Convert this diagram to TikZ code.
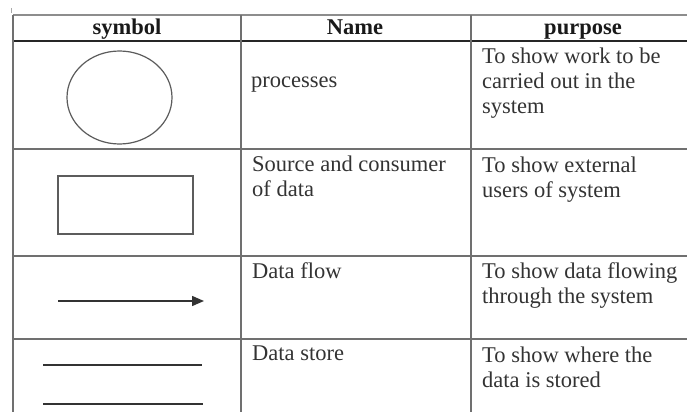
\documentclass[tikz,border=0pt]{standalone}
\usepackage{fontspec}
\setmainfont{Liberation Serif}
\usetikzlibrary{arrows.meta,shapes.geometric}
\definecolor{rule}{HTML}{707070}
\definecolor{ink}{HTML}{333333}

\begin{document}
\begin{tikzpicture}[x=1pt,y=-1pt,
  gridline/.style={draw=rule, line width=1.3pt},
  headline/.style={draw=black!85, line width=1.8pt},
  cell/.style={anchor=base west, inner sep=0pt, align=left, text=ink,
    font=\fontsize{22.5}{25}\selectfont},
  head/.style={anchor=base, inner sep=0pt, text=black!90,
    font=\fontsize{22.5}{25}\selectfont\bfseries},
  symline/.style={draw=ink, line width=1.5pt}]
\useasboundingbox (0,0) rectangle (687,412);

% small mark in the corner
\draw[rule!60, line width=1pt] (11,8) -- (11,13);

% table rules
\draw[gridline, draw=rule!80] (13,15) -- (687,15);
\draw[headline] (13,41) -- (687,41);
\draw[gridline] (13,149) -- (687,149);
\draw[gridline] (13,256) -- (687,256);
\draw[gridline] (13,339) -- (687,339);
\draw[gridline] (13,15) -- (13,412);
\draw[gridline] (241,15) -- (241,412);
\draw[gridline] (471,15) -- (471,412);

% header
\node[head] (hsym)  at (127,35) {symbol};
\node[head] (hname) at (355,35) {Name};
\node[head] (hpur)  at (583,35) {purpose};

% symbols
\node[ellipse, draw=ink!80, line width=1.2pt, minimum width=105pt,
  minimum height=93pt, inner sep=0pt] (proc) at (119.5,97.5) {};
\node[rectangle, draw=ink!80, line width=1.3pt, minimum width=135pt,
  minimum height=58pt, inner sep=0pt] (ext) at (125.5,205) {};
\coordinate (flowA) at (58,301);
\coordinate (flowB) at (204,301);
\draw[symline, -{Triangle[length=12pt,width=10pt]}] (flowA) -- (flowB);
\coordinate (storeA) at (43,365);
\coordinate (storeB) at (202,365);
\coordinate (storeC) at (43,404);
\coordinate (storeD) at (203,404);
\draw[symline] (storeA) -- (storeB);
\draw[symline] (storeC) -- (storeD);

% names (multi-line cells are placed by the baseline of their last line)
\node[cell] (n1) at (251,87)  {processes};
\node[cell] (n2) at (252,196) {Source and consumer\\of data};
\node[cell] (n3) at (252,278) {Data flow};
\node[cell] (n4) at (252,360) {Data store};

% purposes
\node[cell] (p1) at (482,113) {To show work to be\\carried out in the\\system};
\node[cell] (p2) at (482,197) {To show external\\users of system};
\node[cell] (p3) at (482,303) {To show data flowing\\through the system};
\node[cell] (p4) at (482,387) {To show where the\\data is stored};
\end{tikzpicture}
\end{document}
